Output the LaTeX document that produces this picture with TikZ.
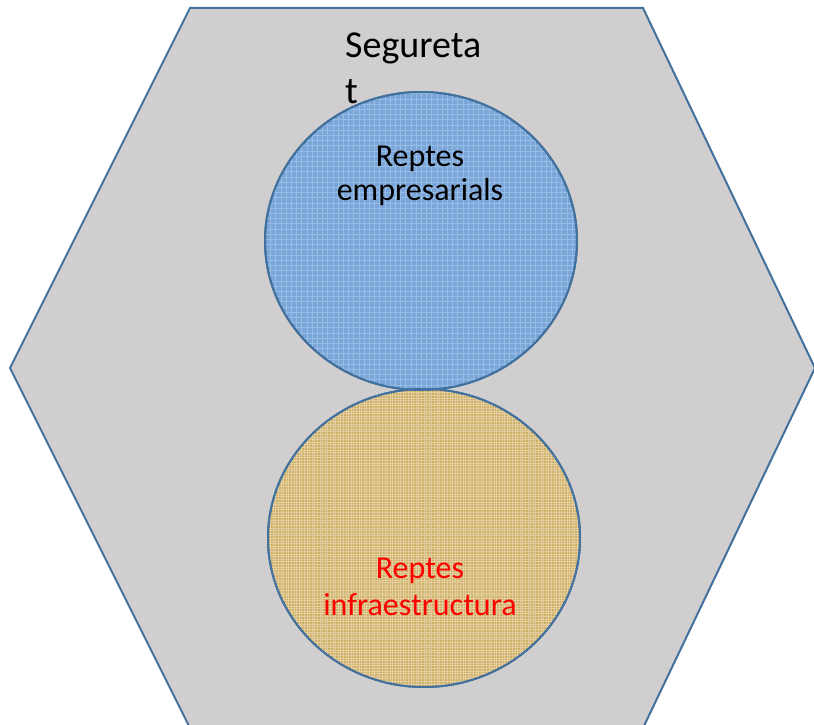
\documentclass[tikz,border=0pt]{standalone}
\usepackage{fontspec}
\setmainfont{Carlito}
\usepackage{tikz}
\usetikzlibrary{shapes.geometric}
\usetikzlibrary{positioning}

\definecolor{edgeblue}{RGB}{65,113,156}
\definecolor{hexgray}{RGB}{208,206,207}
\definecolor{bizblue}{RGB}{124,166,216}
\definecolor{bizgrid}{RGB}{150,188,232}
\definecolor{infragold}{RGB}{206,174,96}
\definecolor{infragrid}{RGB}{206,156,30}

\begin{document}
\begin{tikzpicture}[x=1pt,y=-1pt,
    bubble/.style={draw=edgeblue,line width=2pt,ellipse,inner sep=0pt,
      minimum width=312pt,minimum height=298pt},
    caption/.style={inner sep=0pt,align=center}]
  \useasboundingbox (0,0) rectangle (814,725);
  % outer hexagon
  \draw[draw=edgeblue,line width=2pt,fill=hexgray]
    (190,8) -- (643,8) -- (815,368) -- (643,728) -- (190,728) -- (10,368) -- cycle;
  \node[inner sep=0pt,anchor=base west,align=left,font=\fontsize{38}{46}\selectfont]
    (seg) at (345,103) {Segureta\\t};
  % the two circles
  \node[bubble,fill=bizblue] (biz) at (421,241) {};
  \begin{scope}
    \clip (421,241) ellipse (156pt and 149pt);
    \draw[bizgrid,line width=0.4pt,step=5.2pt] (260,88) grid (580,395);
  \end{scope}
  \node[bubble,fill=infragold] (infra) at (424,538) {};
  \begin{scope}
    \clip (424,538) ellipse (156pt and 149pt);
    \draw[infragrid!70!infragold,line width=0.6pt,step=10.4pt] (260,385) grid (590,695);
    \draw[infragold!60!white,line width=0.3pt,step=2.6pt] (260,385) grid (590,695);
  \end{scope}
  \draw[edgeblue,line width=2pt] (biz.center) ellipse (156pt and 149pt);
  \draw[edgeblue,line width=2pt] (infra.center) ellipse (156pt and 149pt);
  \node[caption,anchor=base,font=\fontsize{32}{34}\selectfont] (bizText)
    at (420,200) {Reptes\\empresarials};
  \node[caption,anchor=base,text=red,font=\fontsize{32}{37}\selectfont] (infraText)
    at (420,615) {Reptes\\infraestructura};
\end{tikzpicture}
\end{document}
